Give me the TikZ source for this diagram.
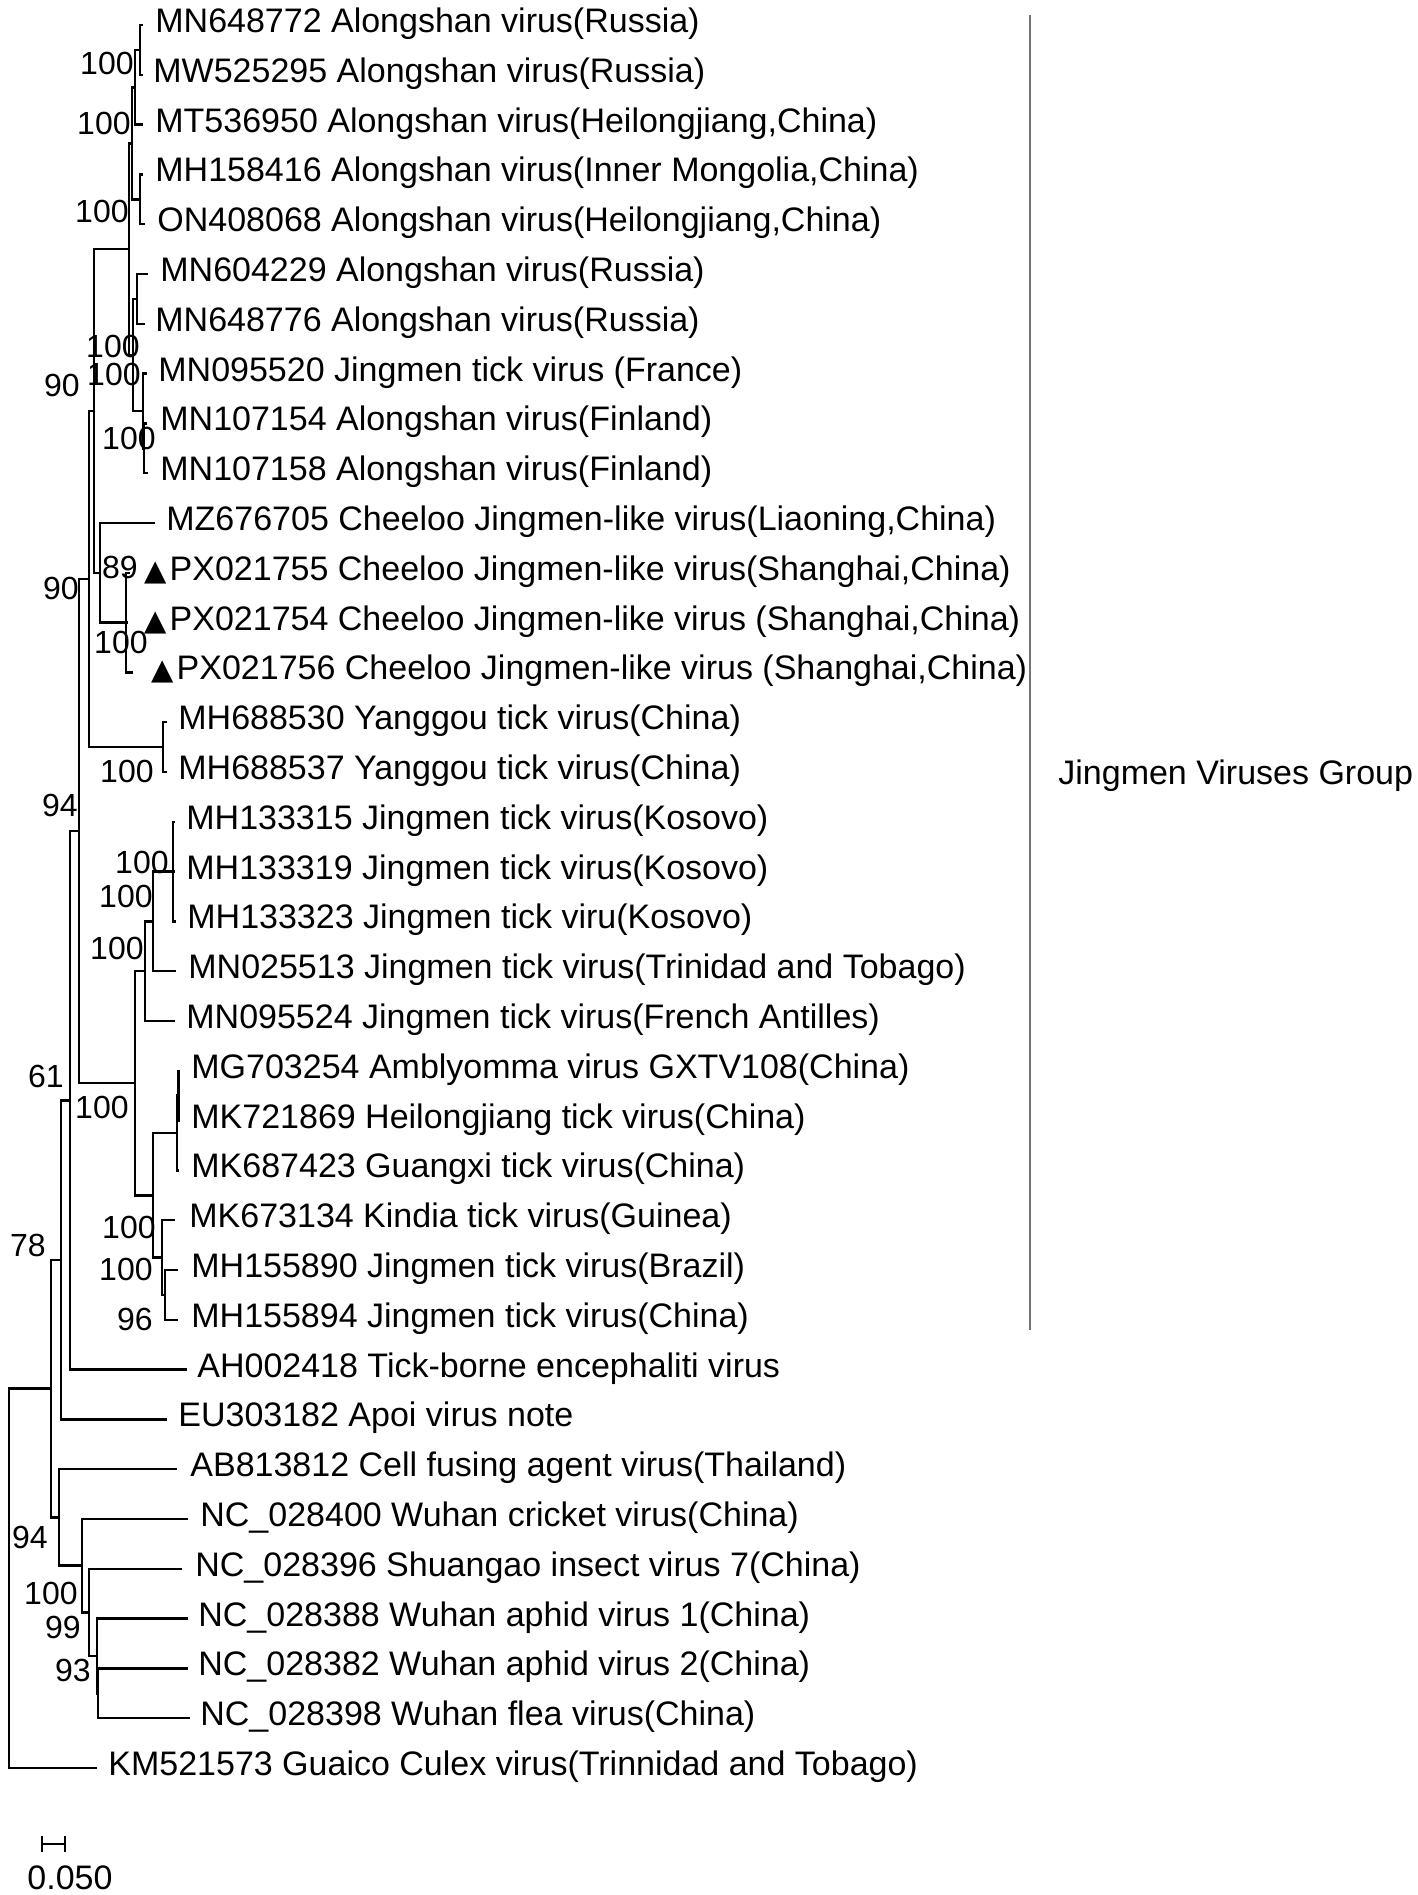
\documentclass[tikz,border=0pt]{standalone}
\usepackage{fontspec}
\setmainfont{Liberation Sans}
\newfontfamily\dejavu{DejaVu Sans}
\newcommand{\tri}{{\dejavu\fontsize{14.5}{17}\selectfont ▲}\hspace{1.5pt}}
\begin{document}
\begin{tikzpicture}[x=0.5pt,y=-0.5pt,
  edge/.style={draw=black,line width=1.25pt,line join=miter},
  leaf/.style={anchor=base west,inner sep=0pt,font=\fontsize{17}{20}\selectfont},
  bs/.style={anchor=east,inner sep=0pt,font=\fontsize{16}{18}\selectfont},
  grp/.style={draw=black!55,line width=0.6pt}]
\fill[white] (0,0) rectangle (1418,1895);
\useasboundingbox (0,0) rectangle (1418,1895);

% ---------- tips ----------
\coordinate (t1) at (143,25);
\coordinate (t2) at (143,74.8);
\coordinate (t3) at (143,124.6);
\coordinate (t4) at (143,174.4);
\coordinate (t5) at (145,224.2);
\coordinate (t6) at (148,274);
\coordinate (t7) at (145,323.8);
\coordinate (t8) at (147,373.6);
\coordinate (t9) at (147,423.4);
\coordinate (t10) at (148,473.2);
\coordinate (t11) at (155,523);
\coordinate (t12) at (130,572.8);
\coordinate (t13) at (128,622.6);
\coordinate (t14) at (133,672.4);
\coordinate (t15) at (167,722.2);
\coordinate (t16) at (167,772);
\coordinate (t17) at (175,821.8);
\coordinate (t18) at (175,871.6);
\coordinate (t19) at (176,921.4);
\coordinate (t20) at (176,971.2);
\coordinate (t21) at (175,1021);
\coordinate (t22) at (180,1070.8);
\coordinate (t23) at (180,1120.6);
\coordinate (t24) at (179,1170.4);
\coordinate (t25) at (175,1220.2);
\coordinate (t26) at (178,1270);
\coordinate (t27) at (178,1319.8);
\coordinate (t28) at (187,1369.6);
\coordinate (t29) at (167,1419.4);
\coordinate (t30) at (177,1469.2);
\coordinate (t31) at (188,1519);
\coordinate (t32) at (182,1568.8);
\coordinate (t33) at (188,1618.6);
\coordinate (t34) at (188,1668.4);
\coordinate (t35) at (190,1718.2);
\coordinate (t36) at (97,1768);

% ---------- internal nodes ----------
\coordinate (n12) at (140,50);
\coordinate (n123) at (135,87.5);
\coordinate (n45) at (140,199.3);
\coordinate (n1to5) at (132,143.4);
\coordinate (n67) at (137,298.9);
\coordinate (n910) at (144,448.3);
\coordinate (n8to10) at (143,411);
\coordinate (n6to10) at (133,355);
\coordinate (nals) at (129,249.2);
\coordinate (npx) at (126,622.6);
\coordinate (nche) at (100,572.8);
\coordinate (nac) at (94,411);
\coordinate (nyg) at (163,747.1);
\coordinate (n90b) at (89,579);
\coordinate (nk) at (173,871.6);
\coordinate (nk2) at (153,921.4);
\coordinate (nk3) at (145,971.2);
\coordinate (na1) at (178.5,1095.7);
\coordinate (na2) at (177,1133);
\coordinate (n2627) at (165,1294.9);
\coordinate (n25) at (162,1257.6);
\coordinate (nl) at (153,1195.3);
\coordinate (nj) at (135,1083.2);
\coordinate (n94) at (79,831.1);
\coordinate (n61) at (70,1100.4);
\coordinate (n78) at (61,1259.9);
\coordinate (n3435) at (98,1693.3);
\coordinate (n33) at (97,1656);
\coordinate (n32) at (89,1612.4);
\coordinate (n31) at (82,1565.7);
\coordinate (n30) at (59,1517.4);
\coordinate (n51) at (51,1388.7);
\coordinate (root) at (9,1578.3);

% ---------- branches ----------
\draw[edge] (n12) |- (t1); \draw[edge] (n12) |- (t2);
\draw[edge] (n123) |- (n12); \draw[edge] (n123) |- (t3);
\draw[edge] (n45) |- (t4); \draw[edge] (n45) |- (t5);
\draw[edge] (n1to5) |- (n123); \draw[edge] (n1to5) |- (n45);
\draw[edge] (n67) |- (t6); \draw[edge] (n67) |- (t7);
\draw[edge] (n910) |- (t9); \draw[edge] (n910) |- (t10);
\draw[edge] (n8to10) |- (t8); \draw[edge] (n8to10) |- (n910);
\draw[edge] (n6to10) |- (n67); \draw[edge] (n6to10) |- (n8to10);
\draw[edge] (nals) |- (n1to5); \draw[edge] (nals) |- (n6to10);
\draw[edge] (npx) |- (t12); \draw[edge] (npx) |- (t13); \draw[edge] (npx) |- (t14);
\draw[edge] (nche) |- (t11); \draw[edge] (nche) |- (npx);
\draw[edge] (nac) |- (nals); \draw[edge] (nac) |- (nche);
\draw[edge] (nyg) |- (t15); \draw[edge] (nyg) |- (t16);
\draw[edge] (n90b) |- (nac); \draw[edge] (n90b) |- (nyg);
\draw[edge] (nk) |- (t17); \draw[edge] (nk) |- (t18); \draw[edge] (nk) |- (t19);
\draw[edge] (nk2) |- (nk); \draw[edge] (nk2) |- (t20);
\draw[edge] (nk3) |- (nk2); \draw[edge] (nk3) |- (t21);
\draw[edge] (na1) |- (t22); \draw[edge] (na1) |- (t23);
\draw[edge] (na2) |- (na1); \draw[edge] (na2) |- (t24);
\draw[edge] (n2627) |- (t26); \draw[edge] (n2627) |- (t27);
\draw[edge] (n25) |- (t25); \draw[edge] (n25) |- (n2627);
\draw[edge] (nl) |- (na2); \draw[edge] (nl) |- (n25);
\draw[edge] (nj) |- (nk3); \draw[edge] (nj) |- (nl);
\draw[edge] (n94) |- (n90b); \draw[edge] (n94) |- (nj);
\draw[edge] (n61) |- (n94); \draw[edge] (n61) |- (t28);
\draw[edge] (n78) |- (n61); \draw[edge] (n78) |- (t29);
\draw[edge] (n3435) |- (t34); \draw[edge] (n3435) |- (t35);
\draw[edge] (n33) |- (t33); \draw[edge] (n33) |- (n3435);
\draw[edge] (n32) |- (t32); \draw[edge] (n32) |- (n33);
\draw[edge] (n31) |- (t31); \draw[edge] (n31) |- (n32);
\draw[edge] (n30) |- (t30); \draw[edge] (n30) |- (n31);
\draw[edge] (n51) |- (n78); \draw[edge] (n51) |- (n30);
\draw[edge] (root) |- (n51); \draw[edge] (root) |- (t36);

% ---------- leaf labels ----------
\node[leaf] (l1) at (155,32.5) {MN648772 Alongshan virus(Russia)};
\node[leaf] (l2) at (153,82.3) {MW525295 Alongshan virus(Russia)};
\node[leaf] (l3) at (155,132.1) {MT536950 Alongshan virus(Heilongjiang,China)};
\node[leaf] (l4) at (155,181.9) {MH158416 Alongshan virus(Inner Mongolia,China)};
\node[leaf] (l5) at (157,231.7) {ON408068 Alongshan virus(Heilongjiang,China)};
\node[leaf] (l6) at (160,281.5) {MN604229 Alongshan virus(Russia)};
\node[leaf] (l7) at (155,331.3) {MN648776 Alongshan virus(Russia)};
\node[leaf] (l8) at (158,381.1) {MN095520 Jingmen tick virus (France)};
\node[leaf] (l9) at (160,430.9) {MN107154 Alongshan virus(Finland)};
\node[leaf] (l10) at (160,480.7) {MN107158 Alongshan virus(Finland)};
\node[leaf] (l11) at (166,530.5) {MZ676705 Cheeloo Jingmen-like virus(Liaoning,China)};
\node[leaf] (l12) at (144,580.3) {\tri PX021755 Cheeloo Jingmen-like virus(Shanghai,China)};
\node[leaf] (l13) at (144,630.1) {\tri PX021754 Cheeloo Jingmen-like virus (Shanghai,China)};
\node[leaf] (l14) at (151,679.9) {\tri PX021756 Cheeloo Jingmen-like virus (Shanghai,China)};
\node[leaf] (l15) at (178,729.7) {MH688530 Yanggou tick virus(China)};
\node[leaf] (l16) at (178,779.5) {MH688537 Yanggou tick virus(China)};
\node[leaf] (l17) at (186,829.3) {MH133315 Jingmen tick virus(Kosovo)};
\node[leaf] (l18) at (186,879.1) {MH133319 Jingmen tick virus(Kosovo)};
\node[leaf] (l19) at (187,928.9) {MH133323 Jingmen tick viru(Kosovo)};
\node[leaf] (l20) at (188,978.7) {MN025513 Jingmen tick virus(Trinidad and Tobago)};
\node[leaf] (l21) at (186,1028.5) {MN095524 Jingmen tick virus(French Antilles)};
\node[leaf] (l22) at (191,1078.3) {MG703254 Amblyomma virus GXTV108(China)};
\node[leaf] (l23) at (191,1128.1) {MK721869 Heilongjiang tick virus(China)};
\node[leaf] (l24) at (191,1177.9) {MK687423 Guangxi tick virus(China)};
\node[leaf] (l25) at (189,1227.7) {MK673134 Kindia tick virus(Guinea)};
\node[leaf] (l26) at (191,1277.5) {MH155890 Jingmen tick virus(Brazil)};
\node[leaf] (l27) at (191,1327.3) {MH155894 Jingmen tick virus(China)};
\node[leaf] (l28) at (197,1377.1) {AH002418 Tick-borne encephaliti virus};
\node[leaf] (l29) at (178,1426.9) {EU303182 Apoi virus note};
\node[leaf] (l30) at (190,1476.7) {AB813812 Cell fusing agent virus(Thailand)};
\node[leaf] (l31) at (200,1526.5) {NC\_028400 Wuhan cricket virus(China)};
\node[leaf] (l32) at (195,1576.3) {NC\_028396 Shuangao insect virus 7(China)};
\node[leaf] (l33) at (198,1626.1) {NC\_028388 Wuhan aphid virus 1(China)};
\node[leaf] (l34) at (198,1675.9) {NC\_028382 Wuhan aphid virus 2(China)};
\node[leaf] (l35) at (200,1725.7) {NC\_028398 Wuhan flea virus(China)};
\node[leaf] (l36) at (108,1775.5) {KM521573 Guaico Culex virus(Trinnidad and Tobago)};

% ---------- bootstrap values ----------
\node[bs] (b1) at (134,63) {100};
\node[bs] (b2) at (131,123) {100};
\node[bs] (b3) at (129,211) {100};
\node[bs] (b4) at (140,346) {100};
\node[bs] (b5) at (141,374) {100};
\node[bs] (b6) at (80,385) {90};
\node[bs] (b7) at (156,438) {100};
\node[bs] (b8) at (138,567) {89};
\node[bs] (b9) at (79,588) {90};
\node[bs] (b10) at (148,642) {100};
\node[bs] (b11) at (154,771) {100};
\node[bs] (b12) at (78,805) {94};
\node[bs] (b13) at (169,862) {100};
\node[bs] (b14) at (153,896) {100};
\node[bs] (b15) at (144,948) {100};
\node[bs] (b16) at (64,1076) {61};
\node[bs] (b17) at (129,1107) {100};
\node[bs] (b18) at (156,1227) {100};
\node[bs] (b19) at (153,1269) {100};
\node[bs] (b20) at (153,1319) {96};
\node[bs] (b21) at (46,1245) {78};
\node[bs] (b22) at (48,1537) {94};
\node[bs] (b23) at (78,1593) {100};
\node[bs] (b24) at (81,1627) {99};
\node[bs] (b25) at (91,1670) {93};

% ---------- group bar ----------
\coordinate (gtop) at (1030,15);
\coordinate (gbot) at (1030,1330);
\draw[grp] (gtop) -- (gbot);
\node[leaf] (glab) at (1058,784) {Jingmen Viruses Group};

% ---------- scale bar ----------
\coordinate (sb1) at (42,1844);
\coordinate (sb2) at (65,1844);
\draw[line width=1pt] (sb1) -- (sb2);
\draw[line width=1pt] ([yshift=4pt]sb1) -- ([yshift=-4pt]sb1);
\draw[line width=1pt] ([yshift=4pt]sb2) -- ([yshift=-4pt]sb2);
\node[leaf] (sblab) at (27,1889) {0.050};
\end{tikzpicture}
\end{document}
